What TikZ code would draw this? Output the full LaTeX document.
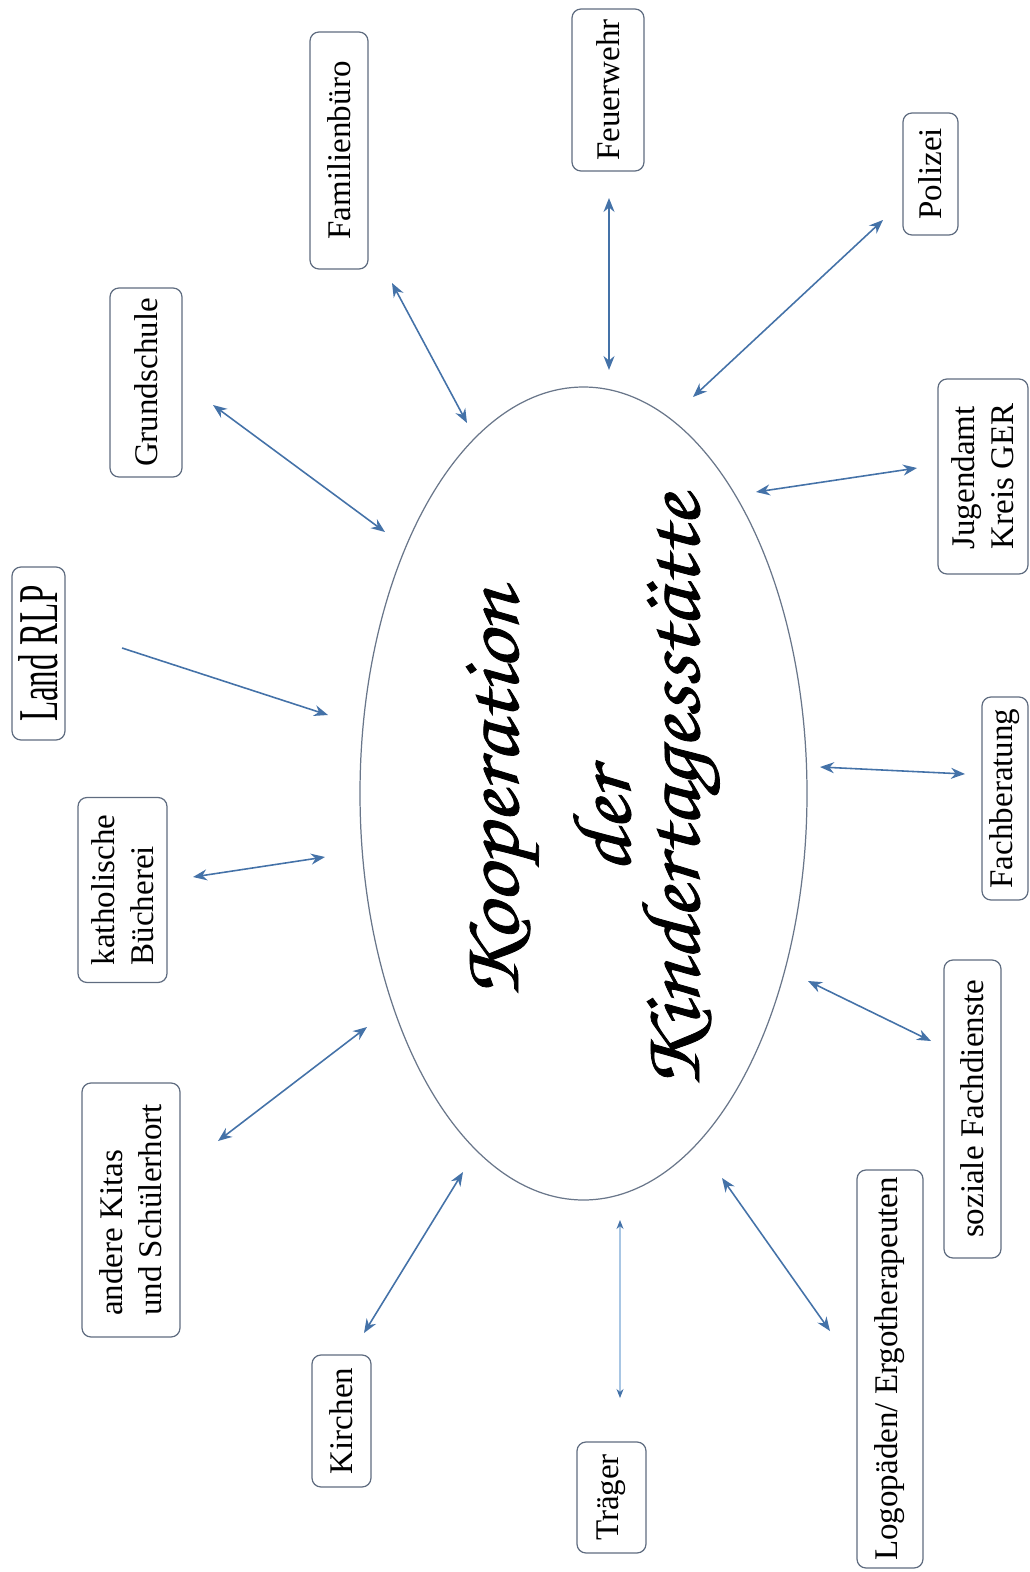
\documentclass[tikz,border=0pt]{standalone}
\usepackage{fontspec}
\setmainfont{Liberation Serif}
\newfontfamily\handfont[FakeBold=0.9]{texgyrechorus-mediumitalic.otf}
\usetikzlibrary{arrows.meta,shapes.geometric}
\definecolor{arrowblue}{RGB}{68,114,168}
\definecolor{boxgray}{RGB}{95,108,128}
\definecolor{ovalgray}{RGB}{105,118,138}
\definecolor{paleblue}{RGB}{168,198,228}
\begin{document}
\begin{tikzpicture}[x=0.1mm, y=-0.1mm,
    partner/.style={draw=boxgray, line width=0.35pt, rounded corners=0.9mm, rotate=90,
      inner sep=0pt, align=left, font=\fontsize{9.4}{11.2}\selectfont},
    link/.style={arrowblue, line width=0.45pt,
      {Stealth[length=1.4mm,width=1.1mm]}-{Stealth[length=1.4mm,width=1.1mm]}},
    title/.style={rotate=90, anchor=base, inner sep=0pt, font=\handfont\fontsize{27}{27}\selectfont}]
    \useasboundingbox (0,0) rectangle (1029,1572);
    % centre
    \node[draw=ovalgray, line width=0.35pt, ellipse, inner sep=0pt,
      minimum width=44.7mm, minimum height=81.3mm] (oval) at (583.5,793.5) {};
    \node[title] (koop) at (518,795) {\scalebox{1}[0.88]{Kooperation}};
    \node[title] (der) at (630,822) {\scalebox{1}[0.88]{der}};
    \node[title] (kita) at (699,793) {\scalebox{1}[0.88]{Kindertagesstätte}};
    % partners, left to right
    \node[partner, minimum width=17.3mm, minimum height=5.3mm] (land) at (38.5,653.5) {\scalebox{1}[1.7]{Land RLP}};
    \node[partner, minimum width=18.5mm, minimum height=8.9mm] (buch) at (122.5,890) {katholische\\Bücherei};
    \node[partner, minimum width=25.4mm, minimum height=9.8mm] (kitas) at (131,1210) {andere Kitas\\und Schülerhort};
    \node[partner, minimum width=18.9mm, minimum height=7.2mm] (grund) at (146,382.5) {Grundschule};
    \node[partner, minimum width=23.7mm, minimum height=5.8mm] (fam) at (339,150.5) {Familienbüro};
    \node[partner, minimum width=13.2mm, minimum height=5.9mm] (kirch) at (341.5,1421) {Kirchen};
    \node[partner, minimum width=16.2mm, minimum height=7.2mm] (feuer) at (608,90) {Feuerwehr};
    \node[partner, minimum width=11.1mm, minimum height=6.9mm] (traeg) at (611.5,1497.5) {Träger};
    \node[partner, minimum width=39.8mm, minimum height=6.6mm] (logo) at (890,1369) {Logopäden/ Ergotherapeuten};
    \node[partner, minimum width=12.2mm, minimum height=5.5mm] (pol) at (930.5,174) {Polizei};
    \node[partner, minimum width=29.8mm, minimum height=5.7mm] (sozial) at (972.5,1109) {soziale Fachdienste};
    \node[partner, minimum width=19.5mm, minimum height=9mm] (jug) at (983,476.5) {Jugendamt\\Kreis GER};
    \node[partner, minimum width=20.3mm, minimum height=4.6mm] (fach) at (1005,798.5) {Fachberatung};
    % arrow ends
    \coordinate (land1) at (122,648);   \coordinate (land2) at (328,715);
    \coordinate (buch1) at (193,877);   \coordinate (buch2) at (325,857);
    \coordinate (kitas1) at (218,1141); \coordinate (kitas2) at (367,1027);
    \coordinate (grund1) at (213,405);  \coordinate (grund2) at (385,532);
    \coordinate (fam1) at (392,283);    \coordinate (fam2) at (467,423);
    \coordinate (kirch1) at (364,1333); \coordinate (kirch2) at (463,1172);
    \coordinate (feuer1) at (609,198);  \coordinate (feuer2) at (609,370);
    \coordinate (traeg1) at (620,1398); \coordinate (traeg2) at (620,1220);
    \coordinate (logo1) at (830,1331);  \coordinate (logo2) at (722,1178);
    \coordinate (pol1) at (883,220);    \coordinate (pol2) at (693,397);
    \coordinate (sozial1) at (931,1041); \coordinate (sozial2) at (808,981);
    \coordinate (jug1) at (917,468);    \coordinate (jug2) at (756,492);
    \coordinate (fach1) at (965,774);   \coordinate (fach2) at (820,767);
    % arrows
    \draw[arrowblue, line width=0.45pt, -{Stealth[length=1.4mm,width=1.1mm]}] (land1) -- (land2); % one way
    \draw[link] (buch1) -- (buch2);
    \draw[link] (kitas1) -- (kitas2);
    \draw[link] (grund1) -- (grund2);
    \draw[link] (fam1) -- (fam2);
    \draw[link] (kirch1) -- (kirch2);
    \draw[link] (feuer1) -- (feuer2);
    \draw[paleblue, line width=0.3pt,
      {Stealth[length=0.9mm,width=0.7mm,color=arrowblue]}-{Stealth[length=0.9mm,width=0.7mm,color=arrowblue]}] (traeg1) -- (traeg2); % pale
    \draw[link] (logo1) -- (logo2);
    \draw[link] (pol1) -- (pol2);
    \draw[link] (sozial1) -- (sozial2);
    \draw[link] (jug1) -- (jug2);
    \draw[link] (fach1) -- (fach2);
\end{tikzpicture}
\end{document}
